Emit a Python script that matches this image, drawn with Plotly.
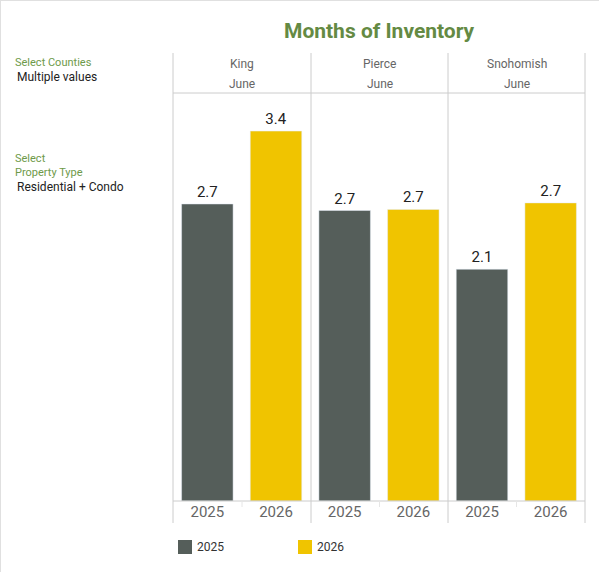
import plotly.graph_objects as go
from plotly.subplots import make_subplots

counties = ["King", "Pierce", "Snohomish"]
month = "June"
years = ["2025", "2026"]
values_2025 = [2.73, 2.67, 2.13]
values_2026 = [3.40, 2.68, 2.74]
colors = {"2025": "#555e5a", "2026": "#f0c400"}

W, H = 599, 572
L, R, T, B = 173, 14, 93, 71
PW, PH = W - L - R, H - T - B

fig = make_subplots(rows=1, cols=3, shared_yaxes=True, horizontal_spacing=0)

for i, c in enumerate(counties):
    for yr, vals in (("2025", values_2025), ("2026", values_2026)):
        fig.add_trace(go.Bar(
            x=[yr], y=[vals[i]], name=yr, marker_color=colors[yr],
            showlegend=False, legendgroup=yr,
            texttemplate="%{y:.1f}", textposition="outside",
            textfont=dict(size=15, color="#222", family="Roboto"),
            cliponaxis=False, hoverinfo="skip",
        ), row=1, col=i + 1)

fig.update_layout(
    width=W, height=H, margin=dict(l=L, r=R, t=T, b=B),
    paper_bgcolor="white", plot_bgcolor="white",
    bargap=0.25, font=dict(family="Roboto", color="#333"),
    showlegend=False,
)
for k in range(1, 4):
    fig.update_xaxes(showgrid=False, tickfont=dict(size=15, color="#666"),
                     showline=False, ticks="", row=1, col=k)
fig.update_yaxes(range=[0, 3.75], visible=False, showgrid=False)

lc = "#cccccc"
def fx(x):
    return (x - L) / PW
def fy(y):
    return 1 - (y - T) / PH

shapes = []
panel_x = [173, 311, 448, 585]
for x in panel_x:
    shapes.append(dict(type="line", xref="paper", yref="paper",
                       x0=fx(x), x1=fx(x), y0=fy(53), y1=fy(523),
                       line=dict(color=lc, width=1)))
for y in (93, 501):
    shapes.append(dict(type="line", xref="paper", yref="paper", x0=0, x1=1,
                       y0=fy(y), y1=fy(y), line=dict(color=lc, width=1)))
for i in range(3):
    xm = (panel_x[i] + panel_x[i + 1]) / 2
    shapes.append(dict(type="line", xref="paper", yref="paper", x0=fx(xm), x1=fx(xm),
                       y0=fy(501), y1=fy(507), line=dict(color="#e6e6e6", width=1)))
shapes.append(dict(type="line", xref="paper", yref="paper",
                   x0=fx(0), x1=fx(W), y0=fy(0), y1=fy(0),
                   line=dict(color="#e0e0e0", width=2)))
shapes.append(dict(type="line", xref="paper", yref="paper",
                   x0=fx(0), x1=fx(0), y0=fy(0), y1=fy(H),
                   line=dict(color="#e0e0e0", width=2)))
# legend swatches
legend_pos = {"2025": 178, "2026": 298}
for yr in years:
    x0 = legend_pos[yr]
    shapes.append(dict(type="rect", xref="paper", yref="paper",
                       x0=fx(x0), x1=fx(x0 + 14), y0=fy(540), y1=fy(554),
                       fillcolor=colors[yr], line=dict(width=0)))
fig.update_layout(shapes=shapes)

ann = []
def add_text(text, x, y, size, color, xanchor="left", bold=False):
    ann.append(dict(text=f"<b>{text}</b>" if bold else text, x=fx(x), y=fy(y),
                    xref="paper", yref="paper", showarrow=False,
                    xanchor=xanchor, yanchor="middle", borderpad=0,
                    font=dict(size=size, color=color, family="Roboto")))

add_text("Months of Inventory", 379, 31, 21, "#648a43", xanchor="center", bold=True)
add_text("Select Counties", 14, 62, 11, "#6e9a4a")
add_text("Multiple values", 16, 77, 12, "#222")
add_text("Select", 14, 158, 11, "#6e9a4a")
add_text("Property Type", 14, 172, 11, "#6e9a4a")
add_text("Residential + Condo", 16, 187, 12, "#222")
for i, c in enumerate(counties):
    xm = (panel_x[i] + panel_x[i + 1]) / 2
    add_text(c, xm, 64, 12, "#666", xanchor="center")
    add_text(month, xm, 84, 12, "#666", xanchor="center")
for yr in years:
    add_text(yr, legend_pos[yr] + 18, 547, 12, "#333")
fig.update_layout(annotations=ann)

fig.write_html("out.html")
